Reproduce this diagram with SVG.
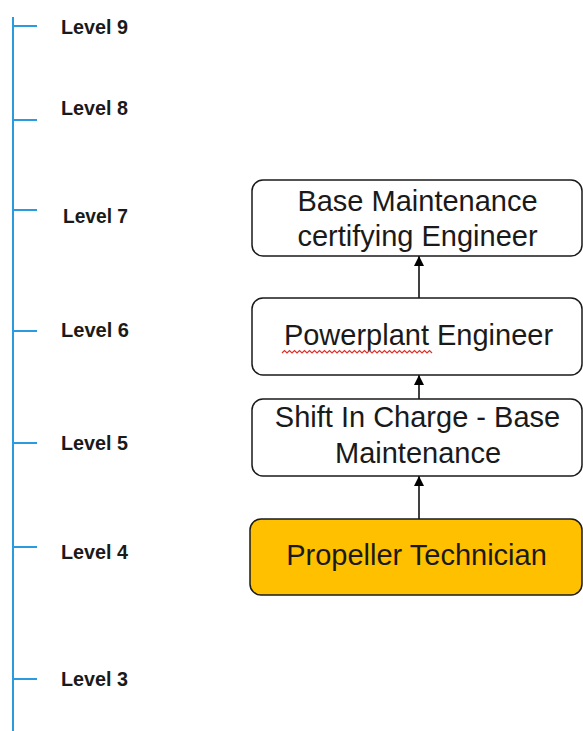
<svg xmlns="http://www.w3.org/2000/svg" width="583" height="731" viewBox="0 0 583 731">
<style>
.axis{stroke:#2A9BDF;stroke-width:2;fill:none}
.lvl{font-family:"Liberation Sans",Arial,sans-serif;font-weight:bold;font-size:21px;fill:#1a1a1a}
.box{fill:#fff;stroke:#1a1a1a;stroke-width:1.5}
.hl{fill:#FFC000}
.lbl{font-family:"Liberation Sans",Arial,sans-serif;font-size:29px;fill:#1a1a1a;text-anchor:middle}
.conn{stroke:#000;stroke-width:1.5;fill:none;marker-end:url(#ah)}
</style>
<defs>
<marker id="ah" viewBox="0 0 10 10" refX="10" refY="5" markerWidth="10" markerHeight="10" markerUnits="userSpaceOnUse" orient="auto">
<path d="M0,0 L10,5 L0,10 z" fill="#000"/>
</marker>
</defs>
<rect width="583" height="731" fill="#fff"/>
<g id="axis">
<path class="axis" d="M13,17 V731 M13,26 H37 M13,120 H37 M13,210 H37 M13,331 H37 M13,443 H37 M13,547 H37 M13,679 H37"/>
<text class="lvl" x="61" y="34" textLength="67" lengthAdjust="spacingAndGlyphs">Level 9</text>
<text class="lvl" x="61" y="115" textLength="67" lengthAdjust="spacingAndGlyphs">Level 8</text>
<text class="lvl" x="63" y="223" textLength="65" lengthAdjust="spacingAndGlyphs">Level 7</text>
<text class="lvl" x="61" y="337" textLength="68" lengthAdjust="spacingAndGlyphs">Level 6</text>
<text class="lvl" x="61" y="450" textLength="67" lengthAdjust="spacingAndGlyphs">Level 5</text>
<text class="lvl" x="61" y="559" textLength="67" lengthAdjust="spacingAndGlyphs">Level 4</text>
<text class="lvl" x="61" y="686" textLength="67" lengthAdjust="spacingAndGlyphs">Level 3</text>
</g>
<g id="connectors">
<path class="conn" d="M419,298 V256"/>
<path class="conn" d="M419,399 V375"/>
<path class="conn" d="M419,519 V476"/>
</g>
<g id="n-base-cert">
<rect class="box" x="252" y="180" width="330" height="76" rx="11"/>
<text class="lbl" x="417.5" y="211">Base Maintenance</text>
<text class="lbl" x="417.5" y="246">certifying Engineer</text>
</g>
<g id="n-powerplant">
<rect class="box" x="252" y="298" width="330" height="77" rx="11"/>
<text class="lbl" x="418.5" y="345">Powerplant Engineer</text>
<path d="M282,353 l2.5,-2.5 l2.5,2.5 l2.5,-2.5 l2.5,2.5 l2.5,-2.5 l2.5,2.5 l2.5,-2.5 l2.5,2.5 l2.5,-2.5 l2.5,2.5 l2.5,-2.5 l2.5,2.5 l2.5,-2.5 l2.5,2.5 l2.5,-2.5 l2.5,2.5 l2.5,-2.5 l2.5,2.5 l2.5,-2.5 l2.5,2.5 l2.5,-2.5 l2.5,2.5 l2.5,-2.5 l2.5,2.5 l2.5,-2.5 l2.5,2.5 l2.5,-2.5 l2.5,2.5 l2.5,-2.5 l2.5,2.5 l2.5,-2.5 l2.5,2.5 l2.5,-2.5 l2.5,2.5 l2.5,-2.5 l2.5,2.5 l2.5,-2.5 l2.5,2.5 l2.5,-2.5 l2.5,2.5 l2.5,-2.5 l2.5,2.5 l2.5,-2.5 l2.5,2.5 l2.5,-2.5 l2.5,2.5 l2.5,-2.5 l2.5,2.5 l2.5,-2.5 l2.5,2.5 l2.5,-2.5 l2.5,2.5 l2.5,-2.5 l2.5,2.5 l2.5,-2.5 l2.5,2.5 l2.5,-2.5 l2.5,2.5 l2.5,-2.5 l2.5,2.5" fill="none" stroke="#E0302A" stroke-width="1.2"/>
</g>
<g id="n-shift">
<rect class="box" x="252" y="399" width="330" height="77" rx="11"/>
<text class="lbl" x="417.5" y="427">Shift In Charge - Base</text>
<text class="lbl" x="418" y="463">Maintenance</text>
</g>
<g id="n-propeller">
<rect class="box hl" x="250" y="519" width="332" height="76" rx="11"/>
<text class="lbl" x="416.5" y="565">Propeller Technician</text>
</g>
</svg>
